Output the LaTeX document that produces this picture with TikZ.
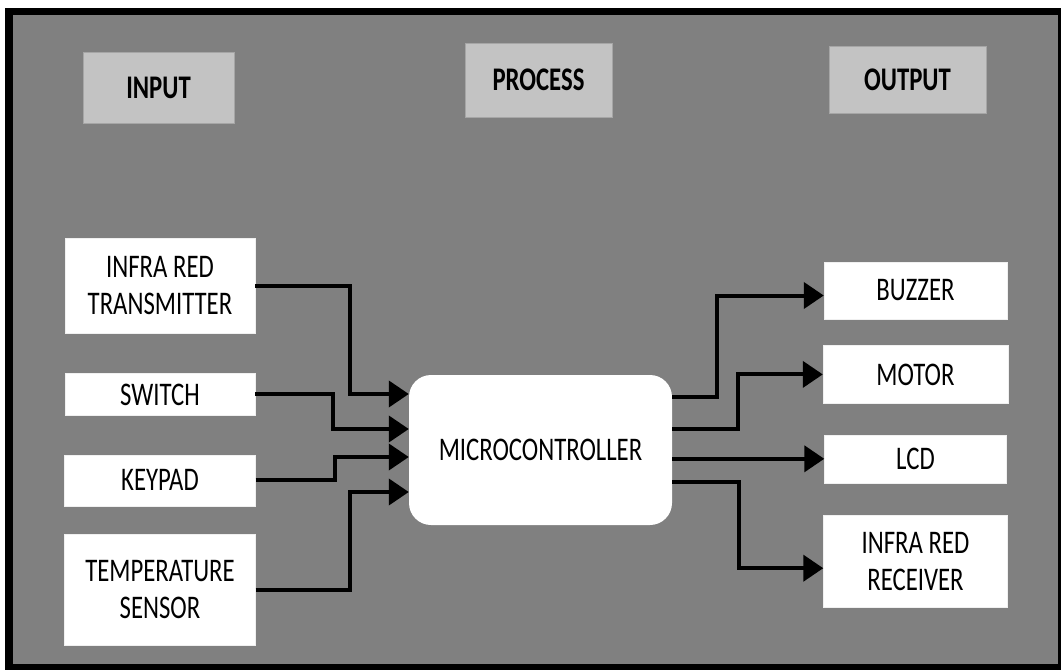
\documentclass[tikz,border=0pt]{standalone}
\usepackage{fontspec}
\setmainfont{Carlito}[FakeStretch=0.75]
\usetikzlibrary{arrows.meta, positioning, calc}
\definecolor{panelgray}{RGB}{128,128,128}
\definecolor{headgray}{RGB}{195,195,195}

\begin{document}
\begin{tikzpicture}[
    x=1pt, y=-1pt,
    node distance=30pt,
    every node/.style={font=\fontsize{33}{37}\selectfont, inner sep=0pt},
    head/.style={rectangle, draw=gray!70, fill=headgray, font=\fontsize{33}{37}\selectfont\bfseries},
    block/.style={rectangle, draw=white!88!gray, fill=white, align=center},
    mcu/.style={rectangle, fill=white, rounded corners=22pt, minimum width=263pt, minimum height=150pt},
    arrow/.style={-{Triangle[length=20pt,width=26pt]}, line width=4pt}
]
\useasboundingbox (0,0) rectangle (1061,670);

% frame
\fill[white] (0,0) rectangle (1061,670);
\fill[black] (5,8) rectangle (1061,670);
\fill[panelgray] (13,15) rectangle (1058,664);

% headings
\node[head, minimum width=151pt, minimum height=71pt] (input) at (158.5,87.5) {INPUT};
\node[head, minimum width=147pt, minimum height=74pt] (process) at (538.5,80) {PROCESS};
\node[head, minimum width=157pt, minimum height=67pt] (output) at (907.5,79.5) {OUTPUT};

% inputs
\node[block, minimum width=190pt, minimum height=95pt] (irt) at (160,285.5) {INFRA RED\\TRANSMITTER};
\node[block, minimum width=190pt, minimum height=42pt, below=40pt of irt] (switch) {SWITCH};
\node[block, minimum width=191pt, minimum height=51pt, below=39pt of switch] (keypad) {KEYPAD};
\node[block, minimum width=191pt, minimum height=111pt, below=28pt of keypad] (temp) {TEMPERATURE\\SENSOR};

% process
\node[mcu] (mcu) at (540.5,450) {MICROCONTROLLER};

% outputs
\node[block, minimum width=183pt, minimum height=57pt] (buzzer) at (915.5,290.5) {BUZZER};
\node[block, minimum width=185pt, minimum height=58pt, below=26pt of buzzer] (motor) {MOTOR};
\node[block, minimum width=182pt, minimum height=48pt, below=31pt of motor] (lcd) {LCD};
\node[block, minimum width=184pt, minimum height=92pt, below=32pt of lcd] (irr) {INFRA RED\\RECEIVER};

\draw[arrow] (irt.east) -- ++(95,0) |- ([yshift=56pt]mcu.west);
\draw[arrow] (switch.east) -- ++(78,0) |- ([yshift=21pt]mcu.west);
\draw[arrow] (keypad.east) -- ++(79,0) |- ([yshift=-7pt]mcu.west);
\draw[arrow] (temp.east) -- ++(94,0) |- ([yshift=-42pt]mcu.west);

\draw[arrow] ([yshift=53pt]mcu.east) -- ++(45,0) |- ([yshift=-5pt]buzzer.west);
\draw[arrow] ([yshift=21pt]mcu.east) -- ++(66,0) |- (motor.west);
\draw[arrow] (mcu.east |- lcd.west) -- (lcd.west);
\draw[arrow] ([yshift=-32pt]mcu.east) -- ++(67,0) |- ([yshift=-7pt]irr.west);

\end{tikzpicture}
\end{document}
